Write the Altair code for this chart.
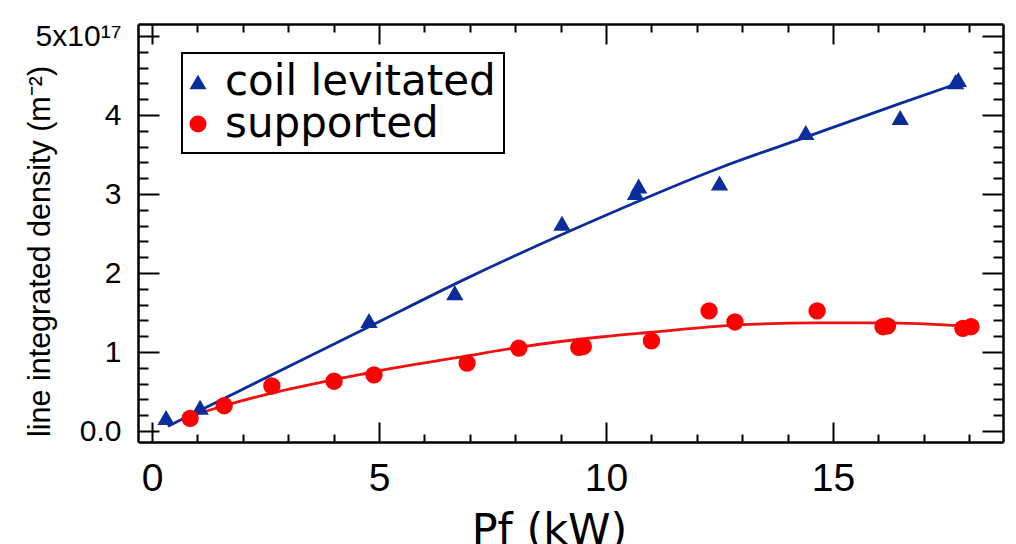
import altair as alt
import pandas as pd

# ---- data (density in units of 1e17 m^-2) ----
lev_pf = [0.31, 1.06, 4.78, 6.67, 9.03, 10.65, 10.72, 12.50, 14.40, 16.48, 17.70, 17.76]
lev_n = [0.17, 0.30, 1.40, 1.75, 2.63, 3.02, 3.10, 3.14, 3.78, 3.97, 4.42, 4.45]
sup_pf = [0.84, 1.59, 2.64, 4.01, 4.89, 6.94, 8.08, 9.40, 9.50, 11.00, 12.27, 12.84,
          14.65, 16.10, 16.20, 17.86, 18.04]
sup_n = [0.16, 0.32, 0.57, 0.63, 0.71, 0.86, 1.05, 1.06, 1.07, 1.14, 1.52, 1.38,
         1.52, 1.32, 1.33, 1.30, 1.32]
lev_fit_pf = [0.35, 2.00, 4.78, 6.85, 9.87, 12.50, 14.40, 16.50, 17.65]
lev_fit_n = [0.06, 0.53, 1.32, 1.91, 2.70, 3.33, 3.72, 4.15, 4.38]
sup_fit_pf = [0.75, 1.59, 2.64, 4.00, 4.89, 6.94, 8.08, 9.87, 11.00, 12.84, 14.65, 16.15, 17.90]
sup_fit_n = [0.17, 0.32, 0.48, 0.65, 0.75, 0.95, 1.06, 1.19, 1.25, 1.34, 1.37, 1.37, 1.33]

series_names = ["coil levitated", "supported"]
x_labels = [0, 5, 10, 15]
x_ticks = [0, 1, 2, 3, 4, 5, 6, 7, 8, 9, 10, 11, 12, 13, 14, 15, 16, 17, 18]
y_labels = [0, 1, 2, 3, 4, 5]
y_ticks = [0, 0.2, 0.4, 0.6, 0.8, 1, 1.2, 1.4, 1.6, 1.8, 2, 2.2, 2.4, 2.6, 2.8, 3,
           3.2, 3.4, 3.6, 3.8, 4, 4.2, 4.4, 4.6, 4.8, 5]

BLUE = "#0b2d9b"
RED = "#ff0000"
W, H = 865, 418
XDOM = [-0.308, 18.744]
YDOM = [-0.139, 5.152]

pts = pd.DataFrame({
    "pf": lev_pf + sup_pf,
    "n": lev_n + sup_n,
    "series": [series_names[0]] * len(lev_pf) + [series_names[1]] * len(sup_pf),
})
lev_fit = pd.DataFrame({"pf": lev_fit_pf, "n": lev_fit_n})
sup_fit = pd.DataFrame({"pf": sup_fit_pf, "n": sup_fit_n})

xscale = alt.Scale(domain=XDOM, nice=False, zero=False)
yscale = alt.Scale(domain=YDOM, nice=False, zero=False)

x_tick_size = {"condition": {"test": "datum.value % 5 == 0", "value": 20}, "value": 8}
y_tick_size = {"condition": {"test": "abs(datum.value - round(datum.value)) < 0.01", "value": 21},
               "value": 10}

# main axes: labels + frame lines (bottom / left)
x_main = alt.Axis(values=x_labels, ticks=False, tickSize=0, labelFont="Liberation Sans",
                  labelFontSize=39, labelColor="black", labelPadding=17, domainColor="black",
                  domainWidth=2.5, grid=False, title="Pf (kW)", titleFont="DejaVu Sans",
                  titleFontSize=43, titleFontWeight="normal", titleColor="black",
                  titleX=411, titleY=67, titleBaseline="top", titleAlign="center")
y_main = alt.Axis(values=y_labels, ticks=False, tickSize=0, labelFont="Liberation Sans",
                  labelFontSize=30, labelColor="black", labelPadding=17, domainColor="black",
                  domainWidth=2.5, grid=False,
                  labelExpr="datum.value == 5 ? '5x10\u00b9\u2077' : (datum.value == 0 ? '0.0' : datum.label)",
                  title="line integrated density (m\u207b\u00b2)", titleFont="Liberation Sans",
                  titleFontSize=30.5, titleFontWeight="normal", titleColor="black",
                  titleX=-83, titleY=227, titleAlign="center", titleBaseline="bottom")

# inward ticks on bottom/left (placed with opposite orient + negative offset)
x_in = alt.Axis(orient="top", offset=-H, values=x_ticks, labels=False, domain=False,
                tickSize=x_tick_size, tickWidth=2, tickColor="black", grid=False, title=None)
y_in = alt.Axis(orient="right", offset=-W, values=y_ticks, labels=False, domain=False,
                tickSize=y_tick_size, tickWidth=2, tickColor="black", grid=False, title=None)

# top / right frame with inward ticks
x_top = alt.Axis(orient="bottom", offset=-H, values=x_ticks, labels=False, domain=True,
                 domainColor="black", domainWidth=2.5,
                 tickSize=x_tick_size, tickWidth=2, tickColor="black", grid=False, title=None)
y_right = alt.Axis(orient="left", offset=-W, values=y_ticks, labels=False, domain=True,
                   domainColor="black", domainWidth=2.5,
                   tickSize=y_tick_size, tickWidth=2, tickColor="black", grid=False, title=None)

legend = alt.Legend(orient="none", legendX=44, legendY=29, padding=8, title=None,
                    strokeColor="black", fillColor="white", labelFont="DejaVu Sans",
                    labelFontSize=42, labelColor="black", labelOffset=6,
                    labelLimit=500, symbolSize=290, symbolOffset={"expr": "-13"},
                    rowPadding=0, symbolStrokeWidth=0, cornerRadius=0)

points = alt.Chart(pts).mark_point(filled=True, size=300, opacity=1, strokeWidth=0).encode(
    x=alt.X("pf:Q", scale=xscale, axis=x_main),
    y=alt.Y("n:Q", scale=yscale, axis=y_main),
    color=alt.Color("series:N", scale=alt.Scale(domain=series_names, range=[BLUE, RED]),
                    legend=legend),
    shape=alt.Shape("series:N", scale=alt.Scale(domain=series_names,
                                                 range=["triangle-up", "circle"]),
                    legend=legend),
)

line_lev = alt.Chart(lev_fit).mark_line(color=BLUE, strokeWidth=2.8, interpolate="monotone").encode(
    x=alt.X("pf:Q", scale=xscale, axis=x_in),
    y=alt.Y("n:Q", scale=yscale, axis=y_in),
)

line_sup = alt.Chart(sup_fit).mark_line(color="#ee1111", strokeWidth=2.8, interpolate="monotone").encode(
    x=alt.X("pf:Q", scale=xscale, axis=x_top),
    y=alt.Y("n:Q", scale=yscale, axis=y_right),
)

chart = alt.layer(line_lev, line_sup, points).resolve_axis(
    x="independent", y="independent"
).properties(
    width=W, height=H,
    autosize=alt.AutoSizeParams(type="none"),
    padding={"left": 130, "top": 16, "right": 5, "bottom": 104},
    background="white",
).configure_view(stroke=None).configure_legend(strokeWidth=2)

chart.save("out.html", embed_options={"renderer": "svg", "actions": False})
